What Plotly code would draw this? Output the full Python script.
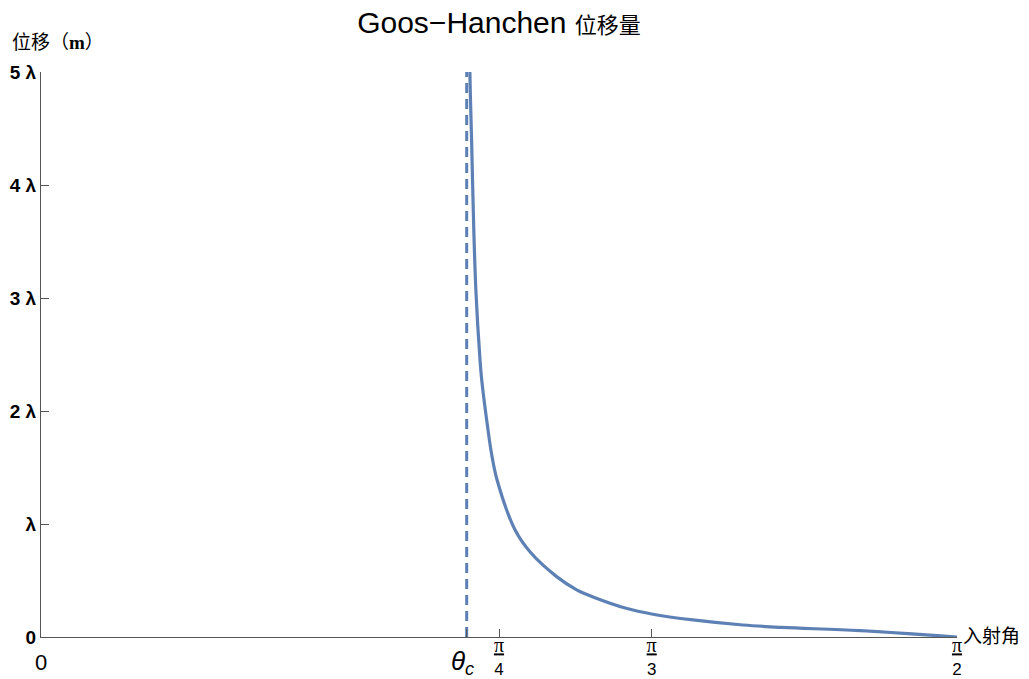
import math
import plotly.graph_objects as go

# Values (angle in rad, shift in units of lambda)
theta = [0.7345, 0.7355, 0.7385, 0.7420, 0.7459, 0.7528, 0.7557, 0.7665, 0.7729, 0.7820,
         0.8128, 0.8400, 0.8848, 0.9186, 0.9466, 1.0049, 1.0472, 1.1180, 1.2038, 1.2700,
         1.4044, 1.5708]
shift = [6.0, 5.0, 4.379, 3.635, 3.05, 2.456, 2.278, 1.835, 1.613, 1.392,
         0.949, 0.745, 0.532, 0.417, 0.355, 0.252, 0.204, 0.151, 0.106, 0.085,
         0.056, 0.0]

theta_c = 0.730
dash_x = [theta_c, theta_c]
dash_y = [0, 5]

x_tickvals = [0, theta_c, math.pi / 4, math.pi / 3, math.pi / 2]
pi_s = "<span style='font-family:\"Liberation Serif\";font-size:20px'><u>π</u></span>"
x_ticktext = ["", "", pi_s + "<br>4", pi_s + "<br>3", pi_s + "<br>2"]
y_tickvals = [0, 1, 2, 3, 4, 5]
y_ticktext = ["<b>0</b>", "<b>λ</b>", "<b>2 λ</b>", "<b>3 λ</b>", "<b>4 λ</b>", "<b>5 λ</b>"]

blue = "#5E81B5"
axis_col = "#555555"
sans = "Liberation Sans, Arial, sans-serif"
cjk = "Noto Sans CJK SC"

fig = go.Figure()
fig.add_trace(go.Scatter(x=dash_x, y=dash_y, mode="lines",
                         line=dict(color=blue, width=3, dash="10px,6px"),
                         showlegend=False, hoverinfo="skip"))
fig.add_trace(go.Scatter(x=theta, y=shift, mode="lines",
                         line=dict(color=blue, width=3.2, shape="spline", smoothing=1.0),
                         showlegend=False))

fig.update_layout(
    width=1021, height=671,
    margin=dict(l=33, r=72, t=64, b=42, autoexpand=False),
    paper_bgcolor="white", plot_bgcolor="white",
    font=dict(family=sans, color="black"),
    title=dict(text="Goos−Hanchen <span style='font-size:22px;font-family:\"Noto Sans CJK SC\"'>位移量</span>",
               x=0.5, xref="paper", xanchor="center", y=1 - 14 / 671, yref="container", yanchor="middle",
               font=dict(size=30, family=sans, color="black")),
    xaxis=dict(range=[0, math.pi / 2], showgrid=False, zeroline=False, automargin=False,
               showline=True, linecolor=axis_col, linewidth=1,
               ticks="inside", ticklen=8, tickcolor=axis_col,
               tickvals=x_tickvals, ticktext=x_ticktext, ticklabelstandoff=-6,
               tickfont=dict(size=17, family=sans, color="black")),
    yaxis=dict(range=[0, 5], showgrid=False, zeroline=False, automargin=False,
               showline=True, linecolor=axis_col, linewidth=1,
               ticks="inside", ticklen=8, tickcolor=axis_col,
               tickvals=y_tickvals, ticktext=y_ticktext, ticklabelstandoff=0,
               tickfont=dict(size=19, family=sans, color="black")),
    annotations=[
        dict(text="位移（<b style='font-family:Liberation Serif'>m</b>）", xref="paper", yref="paper",
             x=0, y=1, xanchor="left", yanchor="middle", xshift=-31, yshift=32,
             showarrow=False, font=dict(size=19, family=cjk, color="black")),
        dict(text="入射角", xref="paper", yref="paper", x=1, y=0,
             xanchor="left", yanchor="middle", xshift=4, yshift=3,
             showarrow=False, font=dict(size=19, family=cjk, color="black")),
        dict(text="0", xref="x", yref="paper", x=x_tickvals[0], y=0,
             xanchor="center", yanchor="middle", yshift=-25,
             showarrow=False, font=dict(size=22, family=sans, color="black")),
        dict(text="<i>θ</i><sub><i>c</i></sub>", xref="x", yref="paper", x=x_tickvals[1], y=0,
             xanchor="center", yanchor="middle", xshift=-4, yshift=-25,
             showarrow=False, font=dict(size=26, family=sans, color="black")),
    ],
)

fig.write_html("out.html")
